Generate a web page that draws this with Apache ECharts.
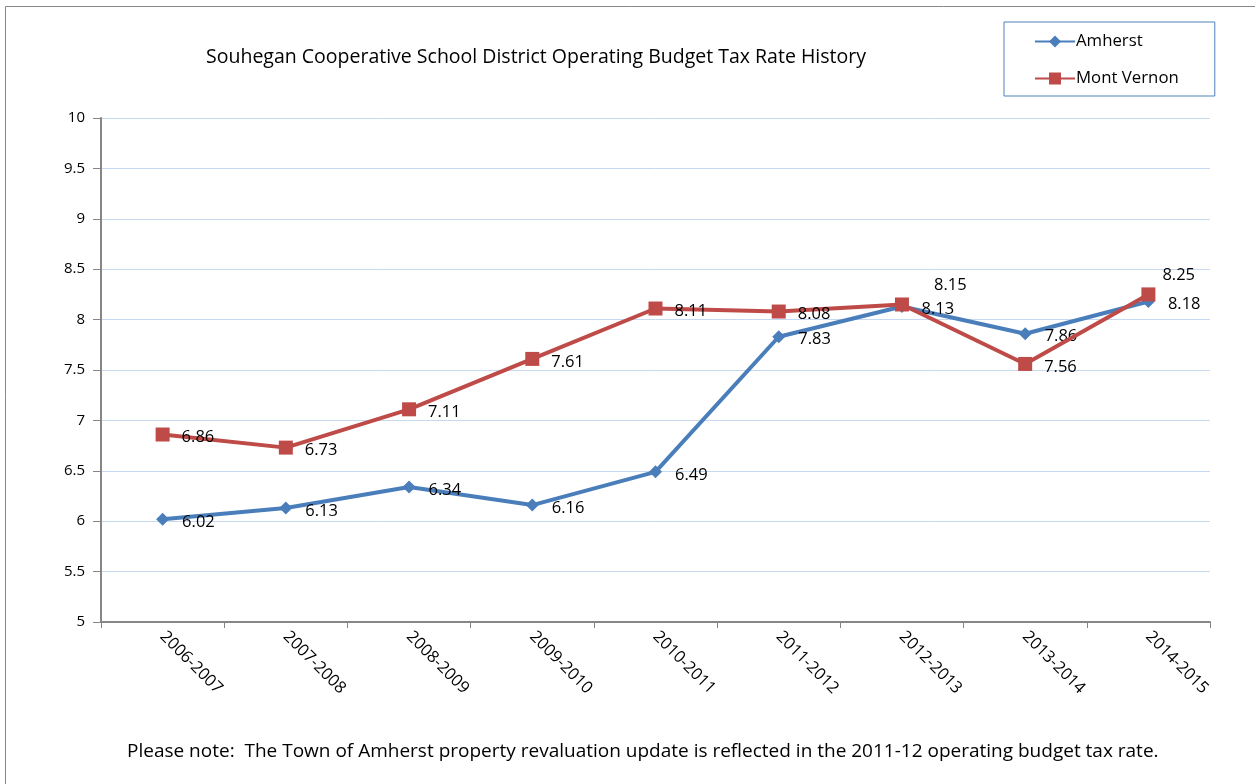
<!DOCTYPE html>
<html>
<head>
<meta charset="utf-8">
<title>Tax Rate History</title>
<script src="https://cdn.jsdelivr.net/npm/echarts@6/dist/echarts.min.js"></script>
<style type="text/css">
    html, body { margin: 0; padding: 0; background: #fff; }
    #main { width: 1255px; height: 784px; }
</style>
</head>
<body>
<div id="main"></div>
<script type="text/javascript">
    // data
    var years = ['2006-2007', '2007-2008', '2008-2009', '2009-2010', '2010-2011',
                 '2011-2012', '2012-2013', '2013-2014', '2014-2015'];
    var amherst = [6.02, 6.13, 6.34, 6.16, 6.49, 7.83, 8.13, 7.86, 8.18];
    var montVernon = [6.86, 6.73, 7.11, 7.61, 8.11, 8.08, 8.15, 7.56, 8.25];

    var font = '"Open Sans", Lato, sans-serif';

    // a couple of labels sit above the point instead of to the right
    var mvLabelOffsets = { 6: [13, -19], 8: [-5, -19] };

    var mvData = montVernon.map(function (v, i) {
        var item = { value: v };
        if (mvLabelOffsets[i]) {
            item.label = { offset: mvLabelOffsets[i] };
        }
        return item;
    });

    var myChart = echarts.init(document.getElementById('main'));
    myChart.setOption({
        animation: false,
        textStyle: { fontFamily: font },
        title: {
            text: 'Souhegan Cooperative School District Operating Budget Tax Rate History',
            left: 531,
            top: 42,
            textAlign: 'center',
            textStyle: { fontSize: 19.5, fontWeight: 'normal', color: '#000', fontFamily: font }
        },
        legend: {
            orient: 'vertical',
            left: 1004,
            top: 22,
            padding: [11, 36, 9, 30],
            itemGap: 20,
            itemWidth: 40,
            itemHeight: 15,
            borderColor: '#4f81bd',
            borderWidth: 1,
            textStyle: { fontSize: 16.8, color: '#000', fontFamily: font, padding: [0, 0, 0, -4] },
            data: ['Amherst', 'Mont Vernon']
        },
        grid: {
            left: 101,
            right: 45,
            top: 118,
            bottom: 162
        },
        xAxis: {
            type: 'category',
            data: years,
            boundaryGap: true,
            axisLine: { lineStyle: { color: '#868686', width: 2 } },
            axisTick: { show: true, length: 6, lineStyle: { color: '#868686', width: 1 } },
            axisLabel: {
                rotate: -45,
                margin: 12,
                fontSize: 16.5,
                color: '#000',
                fontFamily: font
            }
        },
        yAxis: {
            type: 'value',
            min: 5,
            max: 10,
            interval: 0.5,
            axisLine: { show: true, lineStyle: { color: '#868686', width: 2 } },
            axisTick: { show: true, length: 8, lineStyle: { color: '#868686' } },
            axisLabel: { fontSize: 15, color: '#000', margin: 16, fontFamily: font },
            splitLine: { lineStyle: { color: '#c6d9f1', width: 1 } }
        },
        series: [
            {
                name: 'Amherst',
                type: 'line',
                data: amherst,
                symbol: 'diamond',
                symbolSize: 13,
                itemStyle: { color: '#4a7ebb' },
                lineStyle: { color: '#4a7ebb', width: 4 },
                label: {
                    show: true,
                    position: 'right',
                    distance: 13,
                    offset: [0, 3],
                    fontSize: 16.5,
                    color: '#000',
                    fontFamily: font
                },
                z: 2
            },
            {
                name: 'Mont Vernon',
                type: 'line',
                data: mvData,
                symbol: 'rect',
                symbolSize: 14,
                itemStyle: { color: '#be4b48' },
                lineStyle: { color: '#be4b48', width: 4 },
                label: {
                    show: true,
                    position: 'right',
                    distance: 12,
                    offset: [0, 3],
                    fontSize: 16.5,
                    color: '#000',
                    fontFamily: font
                },
                z: 3
            }
        ],
        graphic: [
            {
                type: 'rect',
                shape: { x: 5.5, y: 6.5, width: 1270, height: 800 },
                style: { fill: 'none', stroke: '#888', lineWidth: 1 },
                silent: true
            },
            {
                type: 'text',
                left: 127,
                top: 742,
                style: {
                    text: 'Please note:  The Town of Amherst property revaluation update is reflected in the 2011-12 operating budget tax rate.',
                    fontSize: 19,
                    fill: '#000',
                    fontFamily: font
                }
            }
        ]
    });
</script>
</body>
</html>
